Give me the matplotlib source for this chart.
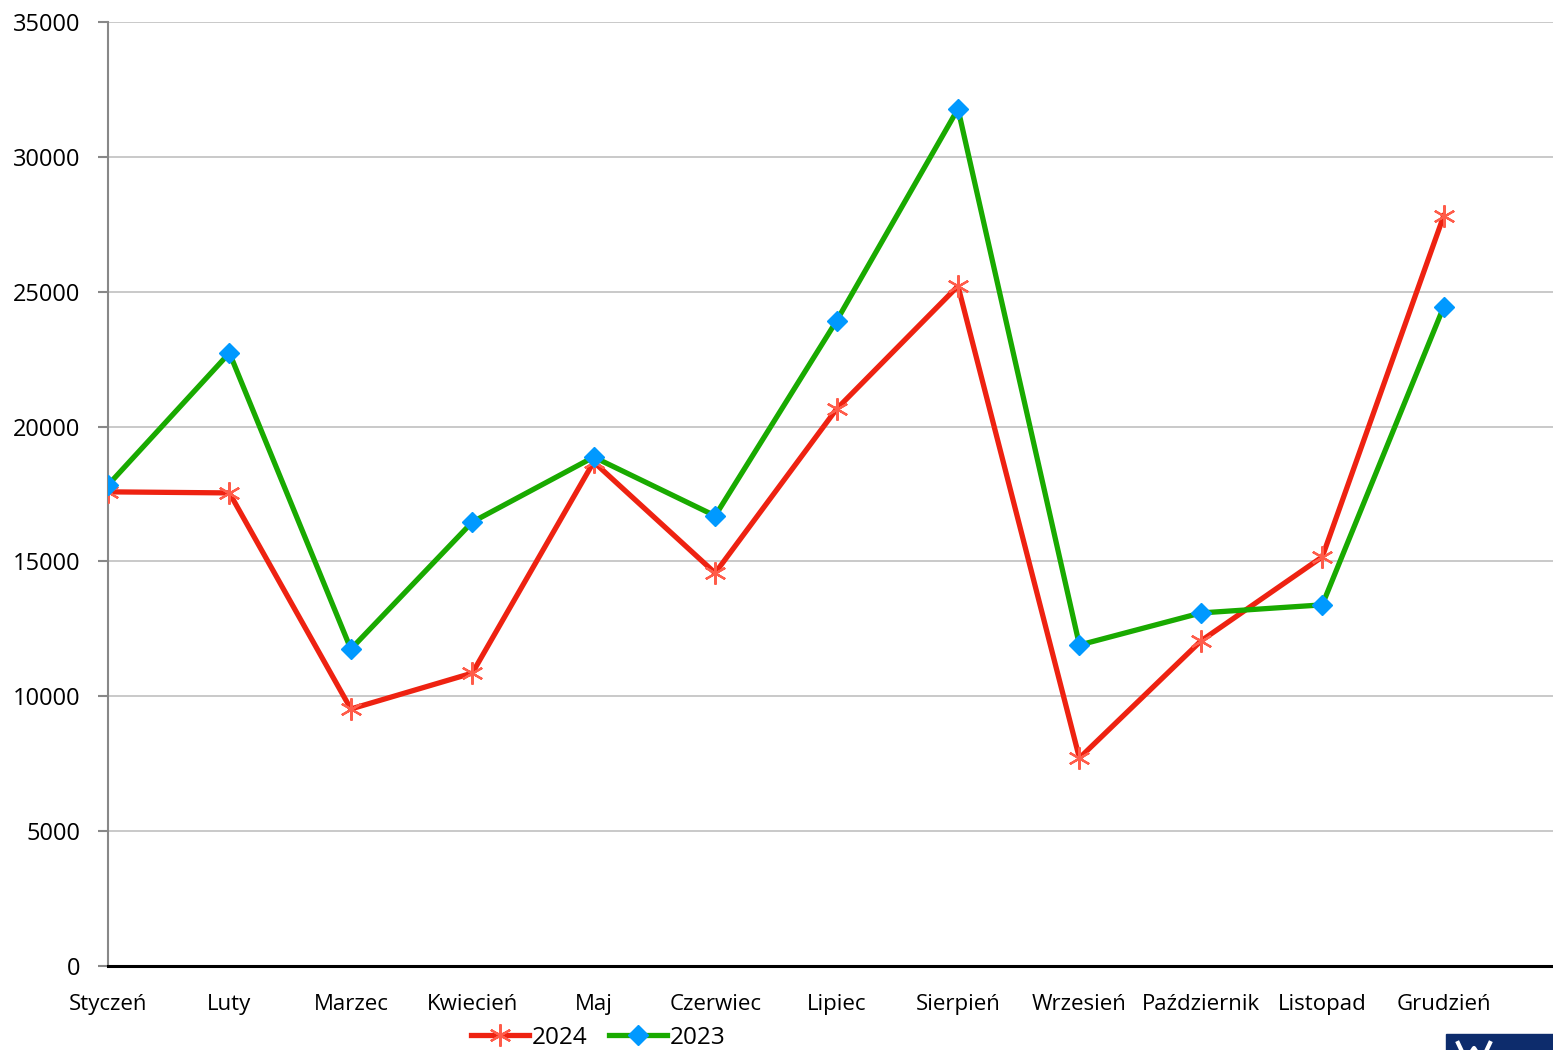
import matplotlib.pyplot as plt
import matplotlib.patches as patches
from matplotlib.lines import Line2D

plt.rcParams['font.family'] = ['Open Sans', 'DejaVu Sans']

# miesiace
months = ['Styczeń', 'Luty', 'Marzec', 'Kwiecień', 'Maj', 'Czerwiec', 'Lipiec',
          'Sierpień', 'Wrzesień', 'Październik', 'Listopad', 'Grudzień']
# wartosci
vals_2024 = [17580, 17540, 9530, 10860, 18690, 14570, 20650, 25210, 7710, 12050, 15170, 27810]
vals_2023 = [17830, 22730, 11750, 16460, 18870, 16690, 23920, 31780, 11900, 13090, 13390, 24440]
yticks = [0, 5000, 10000, 15000, 20000, 25000, 30000, 35000]

fig = plt.figure(figsize=(15.53, 10.5), dpi=100)
ax = fig.add_axes([108 / 1553, 1 - 966 / 1050, 1 - 108 / 1553, (966 - 22) / 1050])

x = list(range(len(months)))
ax.plot(x, vals_2024, color='#ee2211', lw=3.8, marker=(6, 2, 0), markersize=16,
        markeredgecolor='#ff5c4a', markeredgewidth=1.6, label='2024', zorder=3)
ax.plot(x, vals_2023, color='#19aa00', lw=3.8, marker='D', markersize=10,
        markerfacecolor='#0099ff', markeredgecolor='#0099ff', label='2023', zorder=4)

ax.set_xlim(0, 11.9)
ax.set_ylim(0, 35000)
ax.set_yticks(yticks)
ax.set_yticklabels([str(v) for v in yticks], fontsize=17)
ax.set_xticks(x)
ax.set_xticklabels(months, fontsize=16)
ax.tick_params(axis='x', length=0, pad=20)
ax.tick_params(axis='y', length=7, color='#888888', width=1.5, pad=13)
ax.grid(axis='y', color='#c0c0c0', lw=1.2)
ax.set_axisbelow(True)

for s in ['top', 'right']:
    ax.spines[s].set_visible(False)
ax.spines['left'].set_color('#888888')
ax.spines['left'].set_linewidth(1.5)
ax.spines['bottom'].set_color('black')
ax.spines['bottom'].set_linewidth(2.2)
ax.spines['bottom'].set_zorder(5)

leg = fig.legend(loc='center', bbox_to_anchor=(598 / 1553, 1 - 1038 / 1050), ncol=2,
                 frameon=False, fontsize=17.5, handlelength=2.4, handletextpad=0.1,
                 columnspacing=0.9)

# fragment logo w prawym dolnym rogu
fig.patches.append(patches.Rectangle((1446 / 1553, 0), 107 / 1553, 16 / 1050,
                                     transform=fig.transFigure, color='#0d2c6c'))
wx = [1458, 1466, 1474, 1482, 1490]
wy = [1043, 1060, 1048, 1060, 1043]
fig.add_artist(Line2D([v / 1553 for v in wx], [1 - v / 1050 for v in wy],
                      transform=fig.transFigure, color='white', lw=3))

fig.savefig('out.png', dpi=100)
